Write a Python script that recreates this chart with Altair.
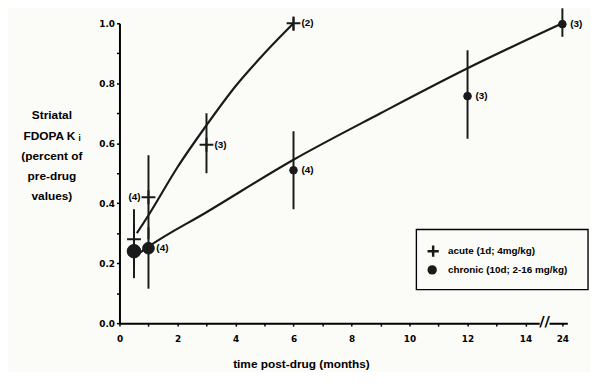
import altair as alt
import pandas as pd

ACUTE = "acute (1d; 4mg/kg)"
CHRONIC = "chronic (10d; 2-16 mg/kg)"

# acute (+) group: month, mean, error-bar ends, n label
acute_month = [0.5, 1, 3, 6]
acute_mean = [0.28, 0.42, 0.595, 1.0]
acute_lo = [0.18, 0.28, 0.50, 0.975]
acute_hi = [0.38, 0.56, 0.70, 1.02]
acute_n = ["", "(4)", "(3)", "(2)"]

# chronic (dot) group
chronic_month = [0.5, 1, 6, 12, 24]
chronic_mean = [0.24, 0.25, 0.51, 0.757, 0.997]
chronic_lo = [0.15, 0.115, 0.38, 0.615, 0.955]
chronic_hi = [0.33, 0.32, 0.64, 0.91, 1.05]
chronic_n = ["", "(4)", "(4)", "(3)", "(3)"]

# fitted curves
acute_fit_month = [0.6, 1, 2, 3, 4, 5, 6]
acute_fit = [0.30, 0.36, 0.52, 0.66, 0.79, 0.90, 1.0]
chronic_fit_month = [0.5, 1, 3, 6, 9, 12, 24]
chronic_fit = [0.22, 0.255, 0.37, 0.545, 0.70, 0.85, 1.0]

x_ticks = list(range(0, 15)) + [15.27]
y_ticks = [round(i * 0.1, 1) for i in range(11)]

BG = "#fbfbf8"
INK = "#1a1a1a"
PLUS = "M-1,0H1M0,-1V1"

acute_df = pd.DataFrame({"month": acute_month, "value": acute_mean, "lo": acute_lo,
                         "hi": acute_hi, "n": acute_n, "kind": "acute", "group": ACUTE})
chronic_df = pd.DataFrame({"month": chronic_month, "value": chronic_mean, "lo": chronic_lo,
                           "hi": chronic_hi, "n": chronic_n, "kind": "chronic", "group": CHRONIC})
pts = pd.concat([acute_df, chronic_df], ignore_index=True)
afit = pd.DataFrame({"month": acute_fit_month, "value": acute_fit})
cfit = pd.DataFrame({"month": chronic_fit_month, "value": chronic_fit})

CALC = "datum.month > 14 ? 15.27 : datum.month"

xaxis = alt.Axis(
    values=x_ticks,
    labelExpr="datum.value > 15 ? '24' : (datum.value % 2 == 0 ? format(datum.value, 'd') : '')",
    grid=False, domainColor="black", domainWidth=2, tickColor="black", tickWidth=1.5,
    tickSize=3, labelFont="DejaVu Sans", labelFontWeight="bold", labelFontSize=9,
    labelColor="black", labelPadding=9, labelFlush=False, labelOverlap=False,
    title="time post-drug (months)", titleFont="Liberation Sans", titleFontWeight="bold",
    titleFontSize=12, titleColor="black", titleX=184, titleY=45, titleAlign="center",
    titleBaseline="alphabetic",
)
yaxis = alt.Axis(
    values=y_ticks,
    labelExpr="round(datum.value * 10) % 2 == 0 ? format(datum.value, '.1f') : ''",
    grid=False, domainColor="black", domainWidth=2, tickColor="black", tickWidth=1.5,
    tickSize=3, labelFont="DejaVu Sans", labelFontWeight="bold", labelFontSize=9,
    labelColor="black", labelPadding=2, labelOverlap=False,
    title=["Striatal", "FDOPA K \u1d62", "(percent of", "pre-drug", "values)"],
    titleFont="Liberation Sans", titleFontWeight="bold", titleFontSize=12, titleColor="black",
    titleAngle=0, titleX=-69, titleY=88, titleAlign="center", titleBaseline="top",
    titleLineHeight=20.5,
)
xs = alt.Scale(domain=[0, 15.44], nice=False, zero=False)
ys = alt.Scale(domain=[0, 1.0], nice=False)

X = alt.X("xpos:Q", scale=xs, axis=xaxis)
Yv = alt.Y("value:Q", scale=ys, axis=yaxis)
Ylo = alt.Y("lo:Q", scale=ys, axis=yaxis)

shape = alt.Shape("group:N", scale=alt.Scale(domain=[ACUTE, CHRONIC], range=[PLUS, "circle"]),
                  legend=None)

acute_line = alt.Chart(afit).transform_calculate(xpos=CALC).mark_line(
    interpolate="monotone", color=INK, strokeWidth=2.2).encode(x=X, y=Yv)
chronic_line = alt.Chart(cfit).transform_calculate(xpos=CALC).mark_line(
    interpolate="monotone", color=INK, strokeWidth=2.2).encode(x=X, y=Yv)

errbars = alt.Chart(pts).transform_calculate(xpos=CALC).mark_rule(
    color=INK, strokeWidth=2).encode(x=X, y=Ylo, y2="hi:Q")

acute_pts = alt.Chart(acute_df).transform_calculate(xpos=CALC).mark_point(
    filled=False, color=INK, strokeWidth=2, opacity=1, size=196
).encode(x=X, y=Yv, shape=shape)

dot_size = (alt.when(alt.datum.month < 1).then(alt.value(190))
            .when(alt.datum.month == 1).then(alt.value(140))
            .otherwise(alt.value(60)))
chronic_pts = alt.Chart(chronic_df).transform_calculate(xpos=CALC).mark_point(
    filled=True, color=INK, stroke=INK, strokeWidth=1, opacity=1
).encode(x=X, y=Yv, shape=shape, size=dot_size)

labels_right = alt.Chart(pts).transform_calculate(xpos=CALC).transform_filter(
    "datum.n != '' && !(datum.kind == 'acute' && datum.month == 1)"
).mark_text(align="left", baseline="middle", dx=8, font="Liberation Sans",
            fontWeight="bold", fontSize=10, color="black").encode(x=X, y=Yv, text="n:N")

labels_left = alt.Chart(pts).transform_calculate(xpos=CALC).transform_filter(
    "datum.kind == 'acute' && datum.month == 1"
).mark_text(align="right", baseline="middle", dx=-8, font="Liberation Sans",
            fontWeight="bold", fontSize=10, color="black").encode(x=X, y=Yv, text="n:N")

gap = alt.Chart(pd.DataFrame({"a": [0]})).mark_rule(color=BG, strokeWidth=5).encode(
    x=alt.value(426), x2=alt.value(436), y=alt.value(304))
brk = alt.Chart(pd.DataFrame({"a": [0]})).mark_text(
    text="//", font="DejaVu Sans", fontWeight="bold", fontSize=15, color="black",
    align="center", baseline="middle").encode(x=alt.value(431), y=alt.value(302))

# hand-built legend box
leg_box = alt.Chart(pd.DataFrame({"a": [0]})).mark_rect(
    fill=BG, stroke="black", strokeWidth=1.4).encode(
    x=alt.value(301), x2=alt.value(475), y=alt.value(209), y2=alt.value(270))
leg_acute_sym = alt.Chart(pd.DataFrame({"group": [ACUTE]})).mark_point(
    filled=False, color=INK, strokeWidth=2.5, opacity=1, size=130).encode(
    x=alt.value(318), y=alt.value(231), shape=shape)
leg_chronic_sym = alt.Chart(pd.DataFrame({"group": [CHRONIC]})).mark_point(
    filled=True, color=INK, opacity=1, size=90).encode(
    x=alt.value(317), y=alt.value(250), shape=shape)
leg_acute_txt = alt.Chart(pd.DataFrame({"group": [ACUTE]})).mark_text(
    align="left", baseline="middle", font="Liberation Sans", fontWeight="bold",
    fontSize=10, color="black").encode(x=alt.value(333), y=alt.value(231), text="group:N")
leg_chronic_txt = alt.Chart(pd.DataFrame({"group": [CHRONIC]})).mark_text(
    align="left", baseline="middle", font="Liberation Sans", fontWeight="bold",
    fontSize=10, color="black").encode(x=alt.value(333), y=alt.value(250), text="group:N")

chart = alt.layer(
    acute_line, chronic_line, errbars, acute_pts, chronic_pts,
    labels_right, labels_left, gap, brk,
    leg_box, leg_acute_sym, leg_chronic_sym, leg_acute_txt, leg_chronic_txt
).properties(
    width=454, height=304,
    padding={"left": 113, "top": 13, "right": 23, "bottom": 47},
    autosize=alt.AutoSizeParams(type="none"),
    background=BG,
).configure_view(stroke=None)

chart.save("out.html", embed_options={"renderer": "svg", "actions": False})
